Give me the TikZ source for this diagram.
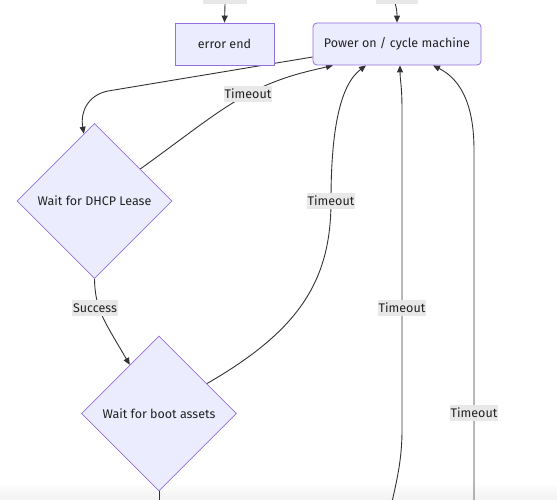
\documentclass[tikz,border=0pt]{standalone}
\usepackage{fontspec}
\setmainfont{Fira Sans}
\usetikzlibrary{shapes.geometric,arrows.meta,calc}
\definecolor{nodefill}{HTML}{ECECFF}
\definecolor{nodeline}{HTML}{9370DB}
\definecolor{edgecol}{HTML}{333333}
\definecolor{lblfill}{HTML}{E8E8E8}
\definecolor{txt}{HTML}{222222}
\pgfdeclarelayer{bgzero}
\pgfdeclarelayer{background}
\pgfsetlayers{bgzero,background,main}
\begin{document}
\begin{tikzpicture}[x=1pt,y=-1pt,
  txtfont/.style={font=\fontsize{12.5}{14}\selectfont},
  box/.style={draw=nodeline,fill=nodefill,line width=0.8pt,text=txt,txtfont,minimum height=42pt,inner sep=0pt},
  dia/.style={diamond,aspect=1,draw=nodeline,fill=nodefill,line width=0.8pt,text=txt,txtfont,minimum width=155pt,minimum height=155pt,inner sep=0pt},
  lbl/.style={fill=lblfill,text=txt,txtfont,inner sep=1pt,minimum height=16pt},
  line/.style={draw=edgecol,line width=0.9pt},
  arr/.style={line,-{Triangle[length=7pt,width=6pt]}}]
\useasboundingbox (0,0) rectangle (557,500);
\clip (0,0) rectangle (557,500);
\begin{pgfonlayer}{bgzero}
\fill[white] (0,0) rectangle (557,500);
\shade[top color=white,bottom color=black!5] (0,482) rectangle (557,500);
\end{pgfonlayer}
% nodes
\node[box,minimum width=99pt] (err) at (224.5,44) {error end};
\node[box,rounded corners=4pt,minimum width=168pt] (pwr) at (397,44) {Power on / cycle machine};
\node[dia] (dhcp) at (94.5,201) {Wait for DHCP Lease};
\node[dia] (boot) at (159,413.5) {Wait for boot assets};
% free ends and label points
\coordinate (in2) at (386,-12);
\coordinate (b1) at (159,515);
\coordinate (b3) at (389,515);
\coordinate (b4) at (474,515);
\coordinate (t1) at (248,94);
\coordinate (t2) at (331,201);
\coordinate (t3) at (402,308);
\coordinate (t4) at (474,413);
\coordinate (s1) at (95,308);
\node[lbl,minimum width=44pt,minimum height=18pt] (lt1) at (225,-5) {};
\node[lbl,minimum width=42pt,minimum height=18pt] (lt2) at (397,-5) {};
\begin{pgfonlayer}{background}
\draw[arr] (lt1.south) -- (err.north);
\draw[arr] (in2) .. controls (395,-2) and (397,8) .. (pwr.north);
\draw[arr] ($(pwr.west)+(0,13)$) -- (108,91) .. controls (88,95) and (80,112) .. (dhcp.99);
\draw[arr] (dhcp.35) .. controls (185,137) and (215,112) .. (t1) .. controls (280,77) and (305,72) .. ($(pwr.south)+(-64,0)$);
\draw[arr] (dhcp.south) .. controls (95,310) and (105,322) .. (boot.121);
\draw[line] (boot.south) -- (b1);
\draw[arr] (boot.32) .. controls (300,330) and (331,280) .. (t2) .. controls (331,130) and (340,85) .. ($(pwr.south)+(-31,0)$);
\draw[arr] (b3) .. controls (397,480) and (402,460) .. (402,430) -- (t3) -- (402,110) .. controls (402,85) and (400,80) .. ($(pwr.south)+(3,0)$);
\draw[arr] (b4) -- (t4) -- (474,150) .. controls (474,100) and (458,78) .. ($(pwr.south)+(36,0)$);
\end{pgfonlayer}
\node[lbl] (l1) at (t1) {Timeout};
\node[lbl] (l2) at (t2) {Timeout};
\node[lbl] (l3) at (t3) {Timeout};
\node[lbl] (l4) at (t4) {Timeout};
\node[lbl] (l5) at (s1) {Success};
\end{tikzpicture}
\end{document}
